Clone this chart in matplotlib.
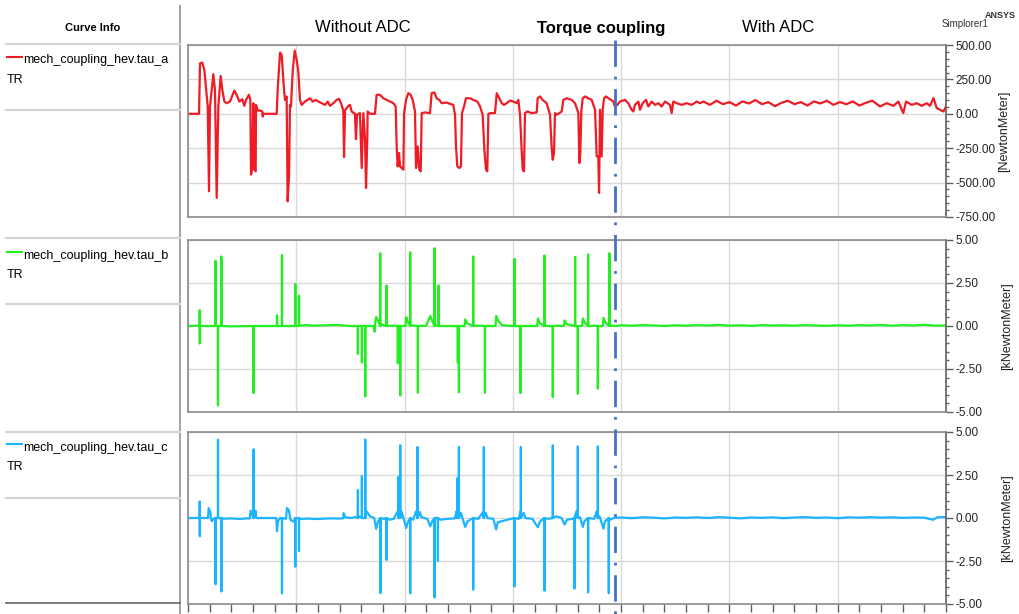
import numpy as np
import matplotlib.pyplot as plt
from matplotlib.lines import Line2D
from matplotlib.ticker import MultipleLocator, FormatStrFormatter

plt.rcParams['font.family'] = ['Liberation Sans', 'DejaVu Sans']
plt.rcParams['lines.scale_dashes'] = False

#--------------------------------------------------------------------------------
# data (time axis, arbitrary units, torque coupling switched to ADC at t_switch)
t_end = 700.0
t_switch = 394.0

# tau_a [NewtonMeter]
tau_a_t = [0, 10.2, 11.1, 13.2, 15.1, 18.2, 19.4, 20.3, 23.4, 24.9, 26.5, 28.0, 30.2, 31.7, 33.6,
           35.7, 38.8, 42.8, 44.9, 47.4, 50.2, 52.0, 53.6, 56.3, 57.6, 58.2, 59.4, 60.3, 61.3,
           62.5, 62.8, 64.3, 66.5, 68.6, 69.0, 69.5, 81.9, 82.8, 85.0, 86.5, 88.7, 89.6, 91.1,
           92.0, 93.3, 94.2, 95.1, 96.7, 98.5, 100.4, 101.9, 103.4, 105.0, 108.0, 112.7, 115.1,
           117.9, 120.4, 123.4, 126.5, 129.0, 131.1, 134.2, 137.3, 139.4, 141.3, 143.4, 144.1,
           145.0, 147.5, 149.6, 151.1, 154.2, 155.1, 156.1, 158.8, 160.4, 161.9, 163.5, 164.4,
           165.6, 165.9, 168.1, 172.7, 174.2, 177.3, 180.4, 183.5, 186.5, 189.6, 191.8, 192.7,
           193.6, 194.9, 195.8, 197.3, 198.9, 199.5, 201.3, 203.5, 205.6, 207.5, 209.6, 210.6,
           212.1, 213.6, 214.9, 215.8, 218.9, 223.5, 225.0, 227.5, 229.6, 232.1, 234.3, 238.9,
           242.0, 245.0, 246.6, 247.5, 248.7, 250.6, 252.1, 253.0, 254.9, 256.7, 260.4, 263.5,
           267.2, 269.7, 272.1, 273.7, 275.2, 276.4, 277.4, 279.5, 283.5, 285.1, 287.5, 289.7,
           291.8, 294.3, 297.4, 300.4, 303.5, 305.1, 306.6, 308.1, 309.1, 310.3, 311.2, 313.4,
           317.4, 322.0, 322.9, 325.1, 327.5, 331.2, 334.3, 335.8, 336.8, 338.0, 338.9, 340.5,
           342.9, 345.1, 346.6, 349.7, 354.3, 357.4, 360.5, 361.4, 362.3, 363.2, 364.5, 366.6,
           369.7, 372.8, 375.9, 377.4, 378.9, 379.6, 380.5, 382.0, 383.0, 384.2, 386.0, 389.7,
           392.8, 394.3, 396.5, 398.9, 403.6, 406.6, 409.7, 411.3, 412.8, 415.9, 417.4, 419.9,
           423.0, 425.1, 428.2, 431.3, 434.4, 437.4, 440.5, 445.1, 446.7, 448.2, 451.3, 455.9,
           460.5, 465.1, 469.8, 472.8, 476, 482, 488, 494, 500, 506, 512, 518, 524, 530, 536,
           542, 548, 554, 560, 566, 572, 578, 584, 590, 596, 602, 608, 614, 620, 626, 632,
           639.1, 645.3, 651.4, 656.0, 660.6, 663.1, 668.3, 673.0, 677.6, 682.2, 685.3, 688.4,
           691.5, 694.5, 697.6, 700]
tau_a_v = [0, 0, 367, 372, 319, 53, -563, 53, 288, 174, -611, 53, 275, 174, 89,
           77, 89, 169, 138, 89, 106, 58, 101, 138, 101, -442, -394, 77, -406,
           -418, 65, 24, 24, 17, -20, 0, 0, 174, 445, 428, 174, 101, 126,
           -636, -454, 65, 53, 307, 459, 392, 307, 101, 65, 89, 113, 89,
           101, 89, 77, 65, 89, 58, 77, 101, 109, 77, 24, -314,
           24, 53, 65, 17, 0, -184, -7, 5, -394, 5, -189, -539,
           -164, 17, 0, 0, 138, 138, 113, 101, 89, 77, 53, -237,
           -382, -285, -382, -394, -406, 0, 101, 150, 138, 101, 17, -394,
           -237, -406, -418, 5, 10, 5, 150, 155, 113, 101, 77, 82,
           72, 65, -7, -237, -382, -394, -382, 5, 53, 113, 113, 101,
           89, 53, -7, -261, -406, -418, 0, 5, 5, 150, 113, 77,
           65, 77, 96, 89, 77, 101, -7, -261, -406, -418, 5, 17,
           5, 10, 113, 126, 101, 77, -7, -237, -334, -285, 5, -7,
           5, 17, 101, 113, 101, 77, 5, -358, -285, 17, 113, 126,
           113, 101, 29, -310, -310, -575, 29, -310, 29, 113, 126, 106,
           89, 53, 65, 89, 101, 77, 29, 17, 65, 89, 29, 77,
           101, 53, 89, 65, 77, 53, 89, 65, 5, 89, 77, 65,
           77, 65, 89, 77, 89, 65, 95, 70, 85, 60, 90, 75, 100, 70, 85,
           55, 80, 95, 70, 85, 60, 90, 75, 95, 65, 85, 70, 90, 60, 80, 95,
           53, 77, 58, 89, 5, 89, 65, 77, 58, 77, 58, 114,
           41, 29, 17, 53]

# tau_b [kNewtonMeter]: slowly varying level plus sharp spikes
tau_b_t = [0, 9, 40, 60, 81, 104, 110, 115, 125, 138, 150, 171.5, 172.3, 173.0, 173.8, 175.5,
           178, 190, 200.8, 201.5, 203, 206, 220, 223.7, 225.5, 229, 240, 255.4, 256.0, 258,
           270, 284.0, 284.6, 286.5, 290, 300, 322.5, 323.1, 325, 340, 347.2, 347.7, 350,
           364.0, 364.6, 366.5, 376, 383.1, 383.7, 385.5, 391, 394,
           400, 410, 420, 430, 440, 450, 460, 470, 480, 490, 500, 510, 520, 530, 540, 550,
           560, 570, 580, 590, 600, 610, 620, 630, 640, 650, 660, 670, 680, 690, 700]
tau_b_v = [0, 0.02, -0.02, 0, 0, 0.03, 0.05, 0.02, 0.04, 0.06, 0, 0, -0.33, 0.2, 0.52, 0.3,
           0.1, 0.02, 0, 0.52, 0.25, 0.05, 0.02, 0.58, 0.3, 0.05, 0, 0, 0.38, 0.15,
           0.02, 0, 0.58, 0.3, 0.05, 0, 0, 0.44, 0.15, 0.02, 0, 0.33, 0.1,
           0, 0.44, 0.2, 0.02, 0, 0.48, 0.2, 0.03, 0,
           0.04, 0.02, 0.05, 0.03, 0, 0.04, 0.02, 0.05, 0.03, 0.06, 0.02, 0.04, 0.01, 0.05, 0.03, 0.04,
           0.02, 0.05, 0.03, 0.01, 0.04, 0.02, 0.05, 0.03, 0.06, 0.02, 0.05, 0.03, 0.07, 0.02, 0.03]
tau_b_spike_t = [10.8, 10.9, 25.5, 27.7, 30.8, 60.6, 82.2, 86.8, 99.1, 102.5, 156.9, 160.6,
                 163.7, 177.5, 183.4, 193.8, 196.0, 205.2, 212.3, 227.7, 231.4, 249.2, 250.2,
                 263.4, 274.2, 301.5, 307.0, 329.2, 336.9, 357.5, 360.0, 369.5, 378.5, 389.2]
tau_b_spike_v = [0.92, -1.02, 3.79, -4.62, 4.04, -3.90, 0.63, 4.13, 2.44, 1.77, -1.63, -2.12,
                 -4.10, 4.23, 2.35, -2.17, -4.04, 4.29, -3.88, 4.52, 2.35, -2.12, -3.85,
                 4.04, -3.88, 3.90, -3.90, 4.10, -4.13, 4.02, -3.94, 4.17, -3.65, 4.23]

# tau_c [kNewtonMeter]
tau_c_t = [0, 18.5, 19.1, 20.6, 21.2, 22.2, 23.5, 33, 40, 48, 52, 57.2, 57.8, 62.5, 63, 70,
           81.5, 82.2, 83, 85, 90.5, 91.4, 93.2, 94.5, 97, 98.5, 104, 110, 118, 125, 132, 140,
           143.3, 143.7, 145, 150, 155, 158, 165, 168, 172, 173.8, 175, 176, 181, 186, 190,
           193.5, 197, 198.5, 201.5, 203, 208, 210.5, 214, 215.5, 221, 223.7, 225.5, 233, 240,
           246.5, 248, 252, 253.5, 256, 258, 262, 268, 272.5, 275, 276.5, 282, 284.6, 286, 295,
           305.5, 307, 310, 311.5, 318, 323.1, 325, 333, 336.9, 340, 345, 347.7, 350, 355,
           358.8, 362, 364.6, 366, 375, 377.5, 380, 383.7, 385, 390, 393,
           400, 410, 420, 430, 440, 450, 460, 470, 480, 490, 500, 510, 520, 530, 540, 550,
           560, 570, 580, 590, 600, 610, 620, 630, 640, 650, 660, 670, 680, 688, 692, 700]
tau_c_v = [0, 0, 0.58, 0.35, -0.05, -0.19, -0.05, -0.04, -0.02, -0.06, -0.03, -0.02, 0.42, 0.42, 0, 0,
           0, -0.77, -0.2, 0, -0.05, 0.58, 0.45, -0.1, -0.2, -0.1, -0.06, -0.03, -0.06, -0.04, -0.02, -0.03,
           -0.02, 0.29, 0.05, 0, 0.05, 0.1, 0.38, 0.1, 0, -0.63, -0.3, -0.15, -0.05, -0.1, -0.05,
           0.38, 0.4, 0.1, -0.58, -0.25, -0.1, 0.38, 0.35, 0.05, -0.05, -0.48, -0.2, -0.1, -0.05,
           -0.02, 0.4, 0.3, 0, -0.52, -0.2, -0.05, -0.05, 0.35, 0.3, 0, -0.05, -0.67, -0.25, -0.1,
           -0.05, 0.38, 0.3, 0, -0.05, -0.54, -0.2, -0.05, 0.35, 0.1, 0, -0.38, -0.1, -0.05,
           0.4, 0.05, -0.52, -0.2, -0.05, 0.4, 0.1, -0.62, -0.2, -0.1, 0,
           0.03, -0.01, 0.04, 0.02, -0.02, 0.03, 0.01, 0.04, 0, 0.05, 0.02, -0.02, 0.03, 0.01, 0.04, -0.01,
           0.03, 0.05, 0.01, 0.03, -0.01, 0.04, 0.02, 0.05, 0.02, 0.04, 0.01, 0.03, 0.02, -0.1, 0.04, 0.05]
tau_c_spike_t = [10.8, 10.9, 25.5, 27.7, 30.8, 60.6, 86.8, 99.1, 102.5, 156.9, 160.6, 163.7,
                 177.8, 183.4, 194.5, 196.0, 205.2, 212.0, 227.7, 230.8, 248.6, 250.2, 263.4,
                 273.2, 301.5, 307.4, 329.2, 336.9, 356.9, 360.0, 369.5, 378.5, 388.6]
tau_c_spike_v = [0.96, -1.06, -3.85, 4.56, -4.27, 4.00, -4.38, -2.83, -1.92, 1.63, 2.44, 4.56,
                 -4.37, -2.44, 2.40, 4.23, -4.38, 4.13, -4.62, -2.50, 2.31, 4.13, -4.17,
                 4.13, -3.98, 4.13, -4.23, 4.23, -4.10, 4.17, -4.33, 4.17, -4.37]

names = ['mech_coupling_hev.tau_a', 'mech_coupling_hev.tau_b', 'mech_coupling_hev.tau_c']
colors = ['#ee1c25', '#22ee22', '#1ab4ff']
units = ['[NewtonMeter]', '[kNewtonMeter]', '[kNewtonMeter]']
ylims = [(-750, 500), (-5, 5), (-5, 5)]
ysteps = [250, 2.5, 2.5]

#--------------------------------------------------------------------------------

def add_spikes(t, v, spike_t, spike_v):
    # each spike drawn as a vertical stroke from zero
    tt = list(t)
    vv = list(v)
    for ts, vs in zip(spike_t, spike_v):
        tt += [ts - 0.05, ts, ts + 0.05]
        vv += [0.0, vs, 0.0]
    order = np.argsort(tt, kind='stable')
    return np.array(tt)[order], np.array(vv)[order]


traces = [(np.array(tau_a_t), np.array(tau_a_v)),
          add_spikes(tau_b_t, tau_b_v, tau_b_spike_t, tau_b_spike_v),
          add_spikes(tau_c_t, tau_c_v, tau_c_spike_t, tau_c_spike_v)]

W, H = 1019, 614
fig = plt.figure(figsize=(W / 100, H / 100), dpi=100)


def box(x0, y0, x1, y1):
    return [x0 / W, 1 - y1 / H, (x1 - x0) / W, (y1 - y0) / H]


panels = [box(188, 45, 946, 217), box(188, 240, 946, 412), box(188, 432, 946, 604)]
label_x = [1.069, 1.073, 1.073]
axes = []
for i in range(3):
    ax = fig.add_axes(panels[i])
    t, v = traces[i]
    ax.plot(t, v, color=colors[i], lw=1.6)
    ax.set_xlim(0, t_end)
    ax.set_ylim(*ylims[i])
    ax.set_xticks(np.arange(0, t_end + 1, 100))
    ax.xaxis.set_minor_locator(MultipleLocator(20))
    ax.set_yticks(np.arange(ylims[i][0], ylims[i][1] + ysteps[i] / 2, ysteps[i]))
    ax.yaxis.set_minor_locator(MultipleLocator(ysteps[i] / 5))
    ax.yaxis.set_major_formatter(FormatStrFormatter('%.2f'))
    ax.yaxis.tick_right()
    ax.grid(True, which='major', color='#d9d9d9', lw=1)
    ax.set_axisbelow(True)
    for s in ax.spines.values():
        s.set_color('#8c8c8c')
        s.set_linewidth(1.2)
    ax.spines['right'].set_color('#606060')
    ax.tick_params(axis='y', which='major', length=5, width=1, color='#606060',
                   labelsize=8.5, pad=2, labelcolor='#222222')
    ax.tick_params(axis='y', which='minor', length=2.5, width=1, color='#606060')
    if i < 2:
        ax.tick_params(axis='x', which='both', length=0, labelbottom=False)
    else:
        ax.tick_params(axis='x', which='both', length=6, width=1, color='#606060',
                       labelbottom=False)
    ax.set_ylabel(units[i], rotation=90, fontsize=9, color='#222222')
    ax.yaxis.set_label_position('right')
    ax.yaxis.set_label_coords(label_x[i], 0.5)
    axes.append(ax)

# dash-dot marker of the coupling switch, across all panels
xs = axes[0].transData.transform((t_switch, 0))[0] / fig.bbox.width
fig.add_artist(Line2D([xs, xs], [1 - 40 / H, 0], transform=fig.transFigure,
                      color='#4472c4', lw=2, ls=(0, (19, 7, 2, 7))))

# header texts
fig.text(363 / W, 1 - 28 / H, 'Without ADC', ha='center', va='center', fontsize=12)
fig.text(601 / W, 1 - 28 / H, 'Torque coupling', ha='center', va='center', fontsize=12,
         fontweight='bold')
fig.text(778 / W, 1 - 28 / H, 'With ADC', ha='center', va='center', fontsize=12)
fig.text(965 / W, 1 - 24 / H, 'Simplorer1', ha='center', va='center', fontsize=7,
         color='#333333')
fig.text(1000 / W, 1 - 16 / H, 'ANSYS', ha='center', va='center', fontsize=6.5,
         fontweight='bold', color='#333333')

# curve info column
fig.text(93 / W, 1 - 28 / H, 'Curve Info', ha='center', va='center', fontsize=8,
         fontweight='bold')
fig.add_artist(Line2D([180 / W, 180 / W], [1 - 6 / H, 0], transform=fig.transFigure,
                      color='#a6a6a6', lw=1.5))
for yy in [44, 110, 238, 304, 432, 498]:
    fig.add_artist(Line2D([6 / W, 180 / W], [1 - yy / H, 1 - yy / H],
                          transform=fig.transFigure, color='#d4d4d4', lw=1.5))
fig.add_artist(Line2D([6 / W, 180 / W], [1 - 603 / H, 1 - 603 / H],
                      transform=fig.transFigure, color='#666666', lw=1.2))
for name, c, yy in zip(names, colors, [57, 252, 444]):
    fig.add_artist(Line2D([7 / W, 22 / W], [1 - yy / H, 1 - yy / H],
                          transform=fig.transFigure, color=c, lw=1.5))
    fig.text(23 / W, 1 - (yy + 3.5) / H, name, ha='left', va='center', fontsize=9)
    fig.text(7 / W, 1 - (yy + 23) / H, 'TR', ha='left', va='center', fontsize=9)

plt.savefig('out.png', dpi=100)
